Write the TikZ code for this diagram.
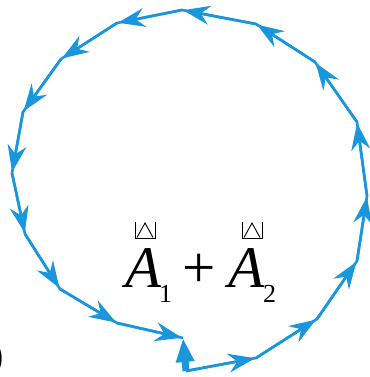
\documentclass[tikz,border=0pt]{standalone}
\usepackage{fontspec}
\setmainfont{Liberation Serif}
\usetikzlibrary{arrows.meta}
\definecolor{phasor}{RGB}{26,150,220}
\begin{document}
\begin{tikzpicture}[x=1pt,y=-1pt,
  seg/.style={draw=phasor,line width=2.6pt},
  vec/.style={draw=phasor,line width=2.6pt,-{Stealth[length=27pt,width=19pt,inset=9pt]},shorten >=1pt},
  res/.style={draw=phasor,line width=7pt,-{Triangle[length=24pt,width=17pt]}},
  lbl/.style={inner sep=0pt,anchor=base west,text=black},
  hat/.style={draw=black,line width=0.9pt}]
\useasboundingbox (0,0) rectangle (369,377);
\coordinate (p0) at (186,371);
\coordinate (p1) at (256,358);
\coordinate (p2) at (317,319);
\coordinate (p3) at (357,261);
\coordinate (p4) at (367,196);
\coordinate (p5) at (357,122);
\coordinate (p6) at (315,62);
\coordinate (p7) at (256,24);
\coordinate (p8) at (182,10);
\coordinate (p9) at (117,23);
\coordinate (p10) at (61,59);
\coordinate (p11) at (23,112);
\coordinate (p12) at (12,173);
\coordinate (p13) at (25,234);
\coordinate (p14) at (60,289);
\coordinate (p15) at (117,323);
\coordinate (p16) at (183,338);
\draw[seg,line join=round] (p0) -- (p1) -- (p2) -- (p3) -- (p4) -- (p5) -- (p6) -- (p7) -- (p8)
  -- (p9) -- (p10) -- (p11) -- (p12) -- (p13) -- (p14) -- (p15) -- (p16);
\foreach \a/\b in {0/1,1/2,2/3,3/4,4/5,5/6,6/7,7/8,8/9,9/10,10/11,11/12,12/13,13/14,14/15,15/16}
  \draw[vec] (p\a) -- (p\b);
\draw[res] (p0) -- (p16);
% label
\node[lbl,font=\fontsize{59}{60}\selectfont\itshape] (a1) at (125,287) {A};
\node[lbl,font=\fontsize{26}{28}\selectfont] (s1) at (159,302) {1};
\node[lbl,font=\fontsize{59}{60}\selectfont] (pl) at (182,287) {+};
\node[lbl,font=\fontsize{59}{60}\selectfont\itshape] (a2) at (228,287) {A};
\node[lbl,font=\fontsize{26}{28}\selectfont] (s2) at (263,302) {2};
\foreach \x in {135,242}{
  \draw[hat] (\x,222) -- (\x,238) -- (\x+20,238) -- (\x+20,222);
  \draw[hat] (\x+2,237.5) -- (\x+10,223) -- (\x+18,237.5);
}
\node[inner sep=0pt,anchor=east,font=\fontsize{40}{40}\selectfont\bfseries] (tag) at (4,359) {(b)};
\end{tikzpicture}
\end{document}
